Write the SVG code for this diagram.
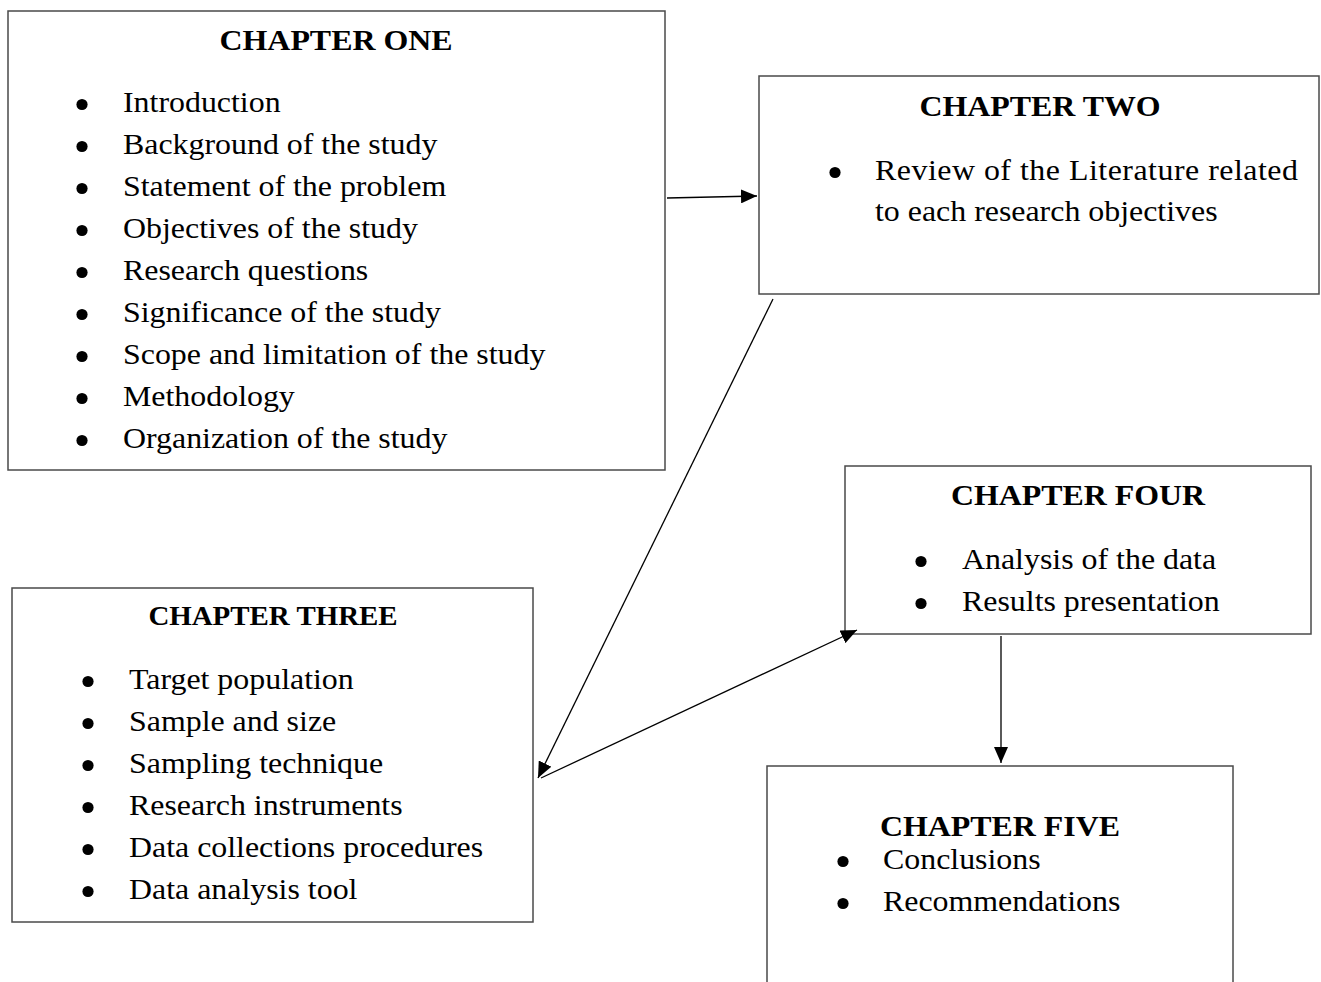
<svg xmlns="http://www.w3.org/2000/svg" width="1321" height="982" viewBox="0 0 1321 982">
<style>
.box{fill:#fff;stroke:#4a4a4a;stroke-width:1.5}
.t{font-family:"Liberation Serif","Times New Roman",serif;font-size:29px;fill:#000}
.h{font-weight:bold;text-anchor:middle}
.h3{font-size:26.3px}
.b{fill:#000}
.c{stroke:#000;stroke-width:1.3;fill:none;marker-end:url(#ah)}
</style>
<defs>
<marker id="ah" markerUnits="userSpaceOnUse" markerWidth="16" markerHeight="14" refX="16" refY="7" orient="auto" viewBox="0 0 16 14">
<path d="M0,0 L16,7 L0,14 z" fill="#000"/>
</marker>
</defs>
<rect width="1321" height="982" fill="#fff"/>
<g id="chapter-one">
<rect class="box" x="8" y="11" width="657" height="459"/>
<text class="t h" transform="translate(336,50) scale(1.1,1)">CHAPTER ONE</text>
<circle class="b" cx="82" cy="104.5" r="5.6"/><text class="t" transform="translate(123,112) scale(1.1,1)">Introduction</text>
<circle class="b" cx="82" cy="146.5" r="5.6"/><text class="t" transform="translate(123,154) scale(1.1,1)">Background of the study</text>
<circle class="b" cx="82" cy="188.5" r="5.6"/><text class="t" transform="translate(123,196) scale(1.1,1)">Statement of the problem</text>
<circle class="b" cx="82" cy="230.5" r="5.6"/><text class="t" transform="translate(123,238) scale(1.1,1)">Objectives of the study</text>
<circle class="b" cx="82" cy="272.5" r="5.6"/><text class="t" transform="translate(123,280) scale(1.1,1)">Research questions</text>
<circle class="b" cx="82" cy="314.5" r="5.6"/><text class="t" transform="translate(123,322) scale(1.1,1)">Significance of the study</text>
<circle class="b" cx="82" cy="356.5" r="5.6"/><text class="t" transform="translate(123,364) scale(1.1,1)">Scope and limitation of the study</text>
<circle class="b" cx="82" cy="398.5" r="5.6"/><text class="t" transform="translate(123,406) scale(1.1,1)">Methodology</text>
<circle class="b" cx="82" cy="440.5" r="5.6"/><text class="t" transform="translate(123,448) scale(1.1,1)">Organization of the study</text>
</g>
<g id="chapter-two">
<rect class="box" x="759" y="76" width="560" height="218"/>
<text class="t h" transform="translate(1040,116) scale(1.1,1)">CHAPTER TWO</text>
<circle class="b" cx="835" cy="172.5" r="5.6"/><text class="t" transform="translate(875,180) scale(1.1,1)" textLength="384.5" lengthAdjust="spacing">Review of the Literature related</text>
<text class="t" transform="translate(875,221) scale(1.1,1)">to each research objectives</text>
</g>
<g id="chapter-three">
<rect class="box" x="12" y="588" width="521" height="334"/>
<text class="t h h3" transform="translate(273,625) scale(1.1,1)">CHAPTER THREE</text>
<circle class="b" cx="88" cy="681.5" r="5.6"/><text class="t" transform="translate(129,689) scale(1.1,1)">Target population</text>
<circle class="b" cx="88" cy="723.5" r="5.6"/><text class="t" transform="translate(129,731) scale(1.1,1)">Sample and size</text>
<circle class="b" cx="88" cy="765.5" r="5.6"/><text class="t" transform="translate(129,773) scale(1.1,1)">Sampling technique</text>
<circle class="b" cx="88" cy="807.5" r="5.6"/><text class="t" transform="translate(129,815) scale(1.1,1)">Research instruments</text>
<circle class="b" cx="88" cy="849.5" r="5.6"/><text class="t" transform="translate(129,857) scale(1.1,1)">Data collections procedures</text>
<circle class="b" cx="88" cy="891.5" r="5.6"/><text class="t" transform="translate(129,899) scale(1.1,1)">Data analysis tool</text>
</g>
<g id="chapter-four">
<rect class="box" x="845" y="466" width="466" height="168"/>
<text class="t h" transform="translate(1078,505) scale(1.1,1)">CHAPTER FOUR</text>
<circle class="b" cx="921" cy="561.5" r="5.6"/><text class="t" transform="translate(962,569) scale(1.1,1)">Analysis of the data</text>
<circle class="b" cx="921" cy="603.5" r="5.6"/><text class="t" transform="translate(962,611) scale(1.1,1)">Results presentation</text>
</g>
<g id="chapter-five">
<rect class="box" x="767" y="766" width="466" height="230"/>
<text class="t h" transform="translate(1000,836) scale(1.1,1)">CHAPTER FIVE</text>
<circle class="b" cx="843" cy="861.5" r="5.6"/><text class="t" transform="translate(883,869) scale(1.1,1)">Conclusions</text>
<circle class="b" cx="843" cy="903.5" r="5.6"/><text class="t" transform="translate(883,911) scale(1.1,1)">Recommendations</text>
</g>
<g id="connectors">
<line class="c" x1="667" y1="198" x2="757" y2="196"/>
<line class="c" x1="773" y1="299" x2="538" y2="778"/>
<line class="c" x1="541" y1="778" x2="857" y2="630"/>
<line class="c" x1="1001" y1="636" x2="1001" y2="763"/>
</g>
</svg>
